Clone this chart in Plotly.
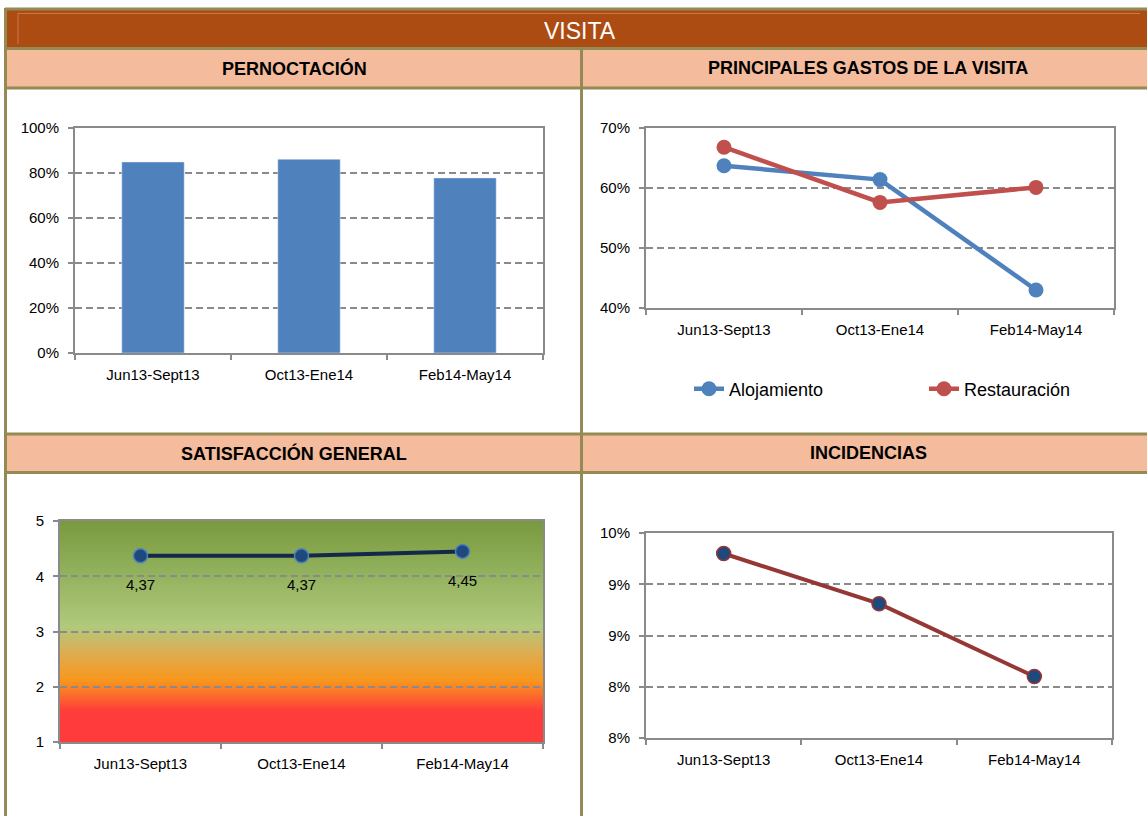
import base64
import struct
import zlib

import plotly.graph_objects as go

# ---- data -------------------------------------------------------------
periodos = ["Jun13-Sept13", "Oct13-Ene14", "Feb14-May14"]
pernoctacion = [0.849, 0.861, 0.778]
alojamiento = [0.637, 0.614, 0.430]
restauracion = [0.668, 0.576, 0.601]
satisfaccion = [4.37, 4.37, 4.45]
incidencias = [0.0980, 0.0931, 0.0860]

inc_tickvals = [0.080, 0.085, 0.090, 0.095, 0.100]
inc_ticktext = ["8%", "8%", "9%", "9%", "10%"]

titulo = "VISITA"
paneles = ["PERNOCTACIÓN", "PRINCIPALES GASTOS DE LA VISITA",
           "SATISFACCIÓN GENERAL", "INCIDENCIAS"]

# ---- page geometry / style -------------------------------------------
W, H = 1147, 816
BORDER = "#948A54"
DARK = "#AD4C12"
SALMON = "#F4BB9C"
AXIS = "#8A8A8A"
FONT = "Liberation Sans, Arial, sans-serif"


def px(x):
    return x / W


def py(y):
    return 1 - y / H


def gradient_png(stops, height=256):
    """1-pixel wide vertical gradient PNG (top row = last stop)."""
    def hex_rgb(h):
        h = h.lstrip("#")
        return tuple(int(h[i:i + 2], 16) for i in (0, 2, 4))

    pts = [(p, hex_rgb(c)) for p, c in stops]
    raw = b""
    for r in range(height):
        t = 1 - r / (height - 1)
        for (p0, c0), (p1, c1) in zip(pts[:-1], pts[1:]):
            if p0 <= t <= p1:
                f = 0 if p1 == p0 else (t - p0) / (p1 - p0)
                rgb = tuple(round(a + (b - a) * f) for a, b in zip(c0, c1))
                break
        raw += b"\x00" + bytes(rgb)

    def chunk(tag, data):
        c = tag + data
        return struct.pack(">I", len(data)) + c + struct.pack(">I", zlib.crc32(c) & 0xFFFFFFFF)

    png = b"\x89PNG\r\n\x1a\n"
    png += chunk(b"IHDR", struct.pack(">IIBBBBB", 1, height, 8, 2, 0, 0, 0))
    png += chunk(b"IDAT", zlib.compress(raw, 9))
    png += chunk(b"IEND", b"")
    return "data:image/png;base64," + base64.b64encode(png).decode()


fig = go.Figure()

# Pernoctación (bars)
fig.add_trace(go.Bar(x=periodos, y=pernoctacion, marker_color="#4F81BD",
                     showlegend=False, xaxis="x", yaxis="y"))

# Principales gastos (lines), each with its own legend box
fig.add_trace(go.Scatter(x=periodos, y=alojamiento, name="Alojamiento",
                         mode="lines+markers",
                         line=dict(color="#4F81BD", width=4.5),
                         marker=dict(size=15, color="#4F81BD"),
                         legend="legend", xaxis="x2", yaxis="y2"))
fig.add_trace(go.Scatter(x=periodos, y=restauracion, name="Restauración",
                         mode="lines+markers",
                         line=dict(color="#C0504D", width=4.5),
                         marker=dict(size=15, color="#C0504D"),
                         legend="legend2", xaxis="x2", yaxis="y2"))

# Satisfacción general
fig.add_trace(go.Scatter(x=periodos, y=satisfaccion, mode="lines+markers",
                         line=dict(color="#14284A", width=4),
                         marker=dict(size=14, color="#1F497D",
                                     line=dict(color="#4F81BD", width=1.5)),
                         showlegend=False, xaxis="x3", yaxis="y3"))

# Incidencias
fig.add_trace(go.Scatter(x=periodos, y=incidencias, mode="lines+markers",
                         line=dict(color="#953735", width=4),
                         marker=dict(size=14, color="#1F497D",
                                     line=dict(color="#953735", width=1.5)),
                         showlegend=False, xaxis="x4", yaxis="y4"))

tickfont = dict(family=FONT, size=15, color="#000000")
common_x = dict(type="category", range=[-0.5, 2.5], showline=True, mirror=True,
                linecolor=AXIS, linewidth=2, ticks="outside", ticklen=5,
                tickwidth=2, tickcolor=AXIS, tickson="boundaries",
                ticklabelstandoff=7,
                showgrid=False, tickfont=tickfont, fixedrange=True)
common_y = dict(showline=True, mirror=True, linecolor=AXIS, linewidth=2,
                ticks="outside", ticklen=5, tickwidth=2, tickcolor=AXIS,
                ticklabelstandoff=6,
                showgrid=True, gridcolor=AXIS, gridwidth=1.5, griddash="7px,4px",
                zeroline=False, tickfont=tickfont, fixedrange=True)

fig.update_layout(
    xaxis=dict(common_x, domain=[px(75), px(543)], anchor="y"),
    yaxis=dict(common_y, domain=[py(353), py(128)], anchor="x",
               range=[0, 1], dtick=0.2, tickformat=".0%"),
    xaxis2=dict(common_x, domain=[px(646), px(1114)], anchor="y2"),
    yaxis2=dict(common_y, domain=[py(308), py(128)], anchor="x2",
                range=[0.4, 0.7], dtick=0.1, tickformat=".0%"),
    xaxis3=dict(common_x, domain=[px(60), px(543)], anchor="y3"),
    yaxis3=dict(common_y, domain=[py(742), py(521)], anchor="x3",
                range=[1, 5], dtick=1),
    xaxis4=dict(common_x, domain=[px(646), px(1112)], anchor="y4"),
    yaxis4=dict(common_y, domain=[py(738), py(533)], anchor="x4",
                range=[0.08, 0.10], tickvals=inc_tickvals, ticktext=inc_ticktext),
)

# gradient backdrop of the satisfaction panel (below the grid lines)
grad = gradient_png([(0.0, "#FF3B3B"), (0.14, "#FF3D3A"), (0.23, "#FA7A28"),
                     (0.28, "#F8981E"), (0.42, "#D9B058"), (0.52, "#B1CA7C"),
                     (0.75, "#94B35F"), (1.0, "#7A9A3F")])
fig.add_layout_image(source=grad, xref="x3 domain", yref="y3 domain",
                     x=0, y=1, sizex=1, sizey=1, xanchor="left", yanchor="top",
                     sizing="stretch", layer="below")

# ---- header bands and frame ------------------------------------------
shapes = []


def rect(x0, y0, x1, y1, color):
    shapes.append(dict(type="rect", xref="paper", yref="paper",
                       x0=px(x0), x1=px(x1), y0=py(y1), y1=py(y0),
                       fillcolor=color, line_width=0, layer="below"))


def line(x0, y0, x1, y1, color=BORDER, width=3):
    shapes.append(dict(type="line", xref="paper", yref="paper",
                       x0=px(x0), x1=px(x1), y0=py(y0), y1=py(y1),
                       line=dict(color=color, width=width), layer="above"))


rect(5, 9, W, 48, DARK)
rect(5, 48, W, 88, SALMON)
rect(5, 434, W, 473, SALMON)
line(18, 13.5, 1140, 13.5, "#C8784A", 1)
line(18, 13, 18, 44, "#C8784A", 1)
line(5, 9, W, 9)
line(5, 48.5, W, 48.5)
line(5, 88, W, 88)
line(5, 434, W, 434)
line(5, 472.5, W, 472.5)
line(5.5, 8, 5.5, H)
line(581.5, 48, 581.5, H)

annotations = [
    dict(text=titulo, x=px(580), y=py(31), font=dict(family=FONT, size=23, color="#FFFFFF")),
    dict(text="<b>" + paneles[0] + "</b>", x=px(294), y=py(68),
         font=dict(family=FONT, size=18, color="#000000")),
    dict(text="<b>" + paneles[1] + "</b>", x=px(868), y=py(68),
         font=dict(family=FONT, size=18, color="#000000")),
    dict(text="<b>" + paneles[2] + "</b>", x=px(294), y=py(453),
         font=dict(family=FONT, size=18, color="#000000")),
    dict(text="<b>" + paneles[3] + "</b>", x=px(868), y=py(453),
         font=dict(family=FONT, size=18, color="#000000")),
]
for a in annotations:
    a.update(xref="paper", yref="paper", showarrow=False,
             xanchor="center", yanchor="middle")

# value labels under the satisfaction points (decimal comma)
for cat, val in zip(periodos, satisfaccion):
    annotations.append(dict(x=cat, y=val, xref="x3", yref="y3",
                            text=f"{val:.2f}".replace(".", ","),
                            showarrow=False, yshift=-29,
                            font=dict(family=FONT, size=15, color="#000000")))

legend_style = dict(orientation="h", xanchor="left", yanchor="middle",
                    font=dict(family=FONT, size=18, color="#000000"),
                    bgcolor="rgba(0,0,0,0)", itemclick=False,
                    itemdoubleclick=False)

fig.update_layout(
    width=W, height=H, autosize=False,
    margin=dict(l=0, r=0, t=0, b=0, autoexpand=False),
    paper_bgcolor="#FFFFFF", plot_bgcolor="rgba(0,0,0,0)",
    separators=",.",
    bargap=0.6,
    shapes=shapes,
    annotations=annotations,
    legend=dict(legend_style, x=px(689), y=py(389)),
    legend2=dict(legend_style, x=px(924), y=py(389)),
    font=dict(family=FONT),
)

fig.write_html("out.html", config={"displayModeBar": False})
